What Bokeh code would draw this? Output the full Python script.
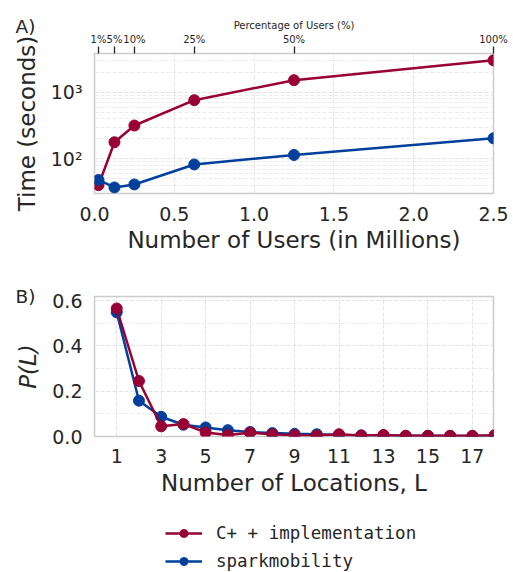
from bokeh.plotting import figure
from bokeh.layouts import column
from bokeh.models import (LinearAxis, FixedTicker, PrintfTickFormatter, Range1d,
                          Legend, LegendItem, Label)
from bokeh.embed import file_html
from bokeh.resources import INLINE

RED = "#990033"
BLUE = "#00409c"
TEXT = "#262626"
GRID = "#e2e2e2"
MINOR = "#ebebeb"
FONT = "DejaVu Sans"

# ---- Panel A data ----
users_m = [0.025, 0.125, 0.25, 0.625, 1.25, 2.5]
pct_labels = ["1%", "5%", "10%", "25%", "50%", "100%"]
cpp_time = [40, 177, 316, 760, 1520, 3020]
spark_time = [48, 37, 41, 82, 114, 203]
x_ticks_a = [0.0, 0.5, 1.0, 1.5, 2.0, 2.5]
y_ticks_a = [100, 1000]
y_minor_a = [30, 40, 50, 60, 70, 80, 90, 200, 300, 400, 500, 600, 700, 800, 900, 2000, 3000]

# ---- Panel B data ----
locations = list(range(1, 19))
cpp_pl = [0.565, 0.245, 0.045, 0.055, 0.018, 0.007, 0.017, 0.010, 0.006, 0.004,
          0.010, 0.004, 0.007, 0.003, 0.003, 0.003, 0.003, 0.006]
spark_pl = [0.548, 0.158, 0.087, 0.052, 0.040, 0.028, 0.020, 0.015, 0.012, 0.010,
            0.007, 0.005, 0.004, 0.003, 0.003, 0.002, 0.002, 0.002]
x_ticks_b = [1, 3, 5, 7, 9, 11, 13, 15, 17]
y_ticks_b = [0.0, 0.2, 0.4, 0.6]
y_minor_b = [0.1, 0.3, 0.5]

cpp_label = "C+ + implementation"
spark_label = "sparkmobility"


def style_axes(p):
    for ax in (p.xaxis + p.yaxis):
        ax.axis_line_color = None
        ax.major_tick_line_color = None
        ax.minor_tick_line_color = None
        ax.major_tick_out = 0
        ax.major_tick_in = 0
        ax.minor_tick_out = 0
        ax.minor_tick_in = 0
        ax.major_label_text_font = FONT
        ax.major_label_text_font_size = "19px"
        ax.major_label_text_color = TEXT
        ax.axis_label_text_font = FONT
        ax.axis_label_text_font_size = "23px"
        ax.axis_label_text_color = TEXT
        ax.axis_label_text_font_style = "normal"
    p.outline_line_color = "#cccccc"
    p.outline_line_width = 1.5
    p.background_fill_color = "white"
    p.border_fill_color = "white"
    for g in (p.xgrid + p.ygrid):
        g.grid_line_color = GRID
        g.grid_line_dash = "4 2"
        g.grid_line_width = 1


def panel_tag(p, text, x, y):
    # text in the right side panel; x, y are offsets from that panel's bottom-left
    p.add_layout(Label(x=x, y=y, x_units="screen", y_units="screen", text=text,
                       text_font=FONT, text_font_size="18.5px", text_color=TEXT,
                       text_baseline="middle", text_align="left"), "right")


# ---------------- Panel A ----------------
pA = figure(width=513, height=265, y_axis_type="log",
            x_range=Range1d(0, 2.5), y_range=Range1d(30, 3830),
            output_backend="svg", toolbar_location=None,
            min_border_left=94, min_border_right=20,
            min_border_top=53, min_border_bottom=72)
pA.line(users_m, cpp_time, color=RED, line_width=2.5)
pA.scatter(users_m, cpp_time, size=11, color=RED)
pA.line(users_m, spark_time, color=BLUE, line_width=2.5)
pA.scatter(users_m, spark_time, size=11, color=BLUE)

pA.xaxis.ticker = FixedTicker(ticks=x_ticks_a)
pA.xaxis.formatter = PrintfTickFormatter(format="%.1f")
pA.yaxis.ticker = FixedTicker(ticks=y_ticks_a, minor_ticks=y_minor_a)
pA.yaxis.major_label_overrides = {100: "10²", 1000: "10³"}
pA.xaxis.axis_label = "Number of Users (in Millions)"
pA.yaxis.axis_label = "Time (seconds)"
style_axes(pA)
pA.xaxis.major_label_standoff = 13
pA.xaxis.axis_label_standoff = 3
pA.yaxis.major_label_standoff = 12
pA.yaxis.axis_label_standoff = 8
pA.ygrid.minor_grid_line_color = MINOR
pA.ygrid.minor_grid_line_dash = "4 2"

top = LinearAxis(ticker=FixedTicker(ticks=users_m),
                 major_label_overrides={v: l for v, l in zip(users_m, pct_labels)},
                 axis_label="Percentage of Users (%)")
top.axis_line_color = None
top.major_tick_line_color = TEXT
top.major_tick_line_width = 1.3
top.major_tick_out = 7
top.major_tick_in = 0
top.minor_tick_line_color = None
top.major_label_text_font = FONT
top.major_label_text_font_size = "10px"
top.major_label_text_color = TEXT
top.major_label_standoff = 2
top.axis_label_text_font = FONT
top.axis_label_text_font_size = "10px"
top.axis_label_text_color = TEXT
top.axis_label_text_font_style = "normal"
top.axis_label_standoff = 0
pA.add_layout(top, "above")

panel_tag(pA, "A)", -478, 167)

# ---------------- Panel B ----------------
pB = figure(width=513, height=235,
            x_range=Range1d(0, 17.95), y_range=Range1d(0, 0.618),
            output_backend="svg", toolbar_location=None,
            min_border_left=94, min_border_right=20,
            min_border_top=31, min_border_bottom=64)
pB.line(locations, spark_pl, color=BLUE, line_width=2.5)
pB.scatter(locations, spark_pl, size=11, color=BLUE)
pB.line(locations, cpp_pl, color=RED, line_width=2.5)
pB.scatter(locations, cpp_pl, size=11, color=RED)

pB.xaxis.ticker = FixedTicker(ticks=x_ticks_b)
pB.yaxis.ticker = FixedTicker(ticks=y_ticks_b, minor_ticks=y_minor_b)
pB.yaxis.formatter = PrintfTickFormatter(format="%.1f")
pB.xaxis.axis_label = "Number of Locations, L"
pB.yaxis.axis_label = "P(L)"
style_axes(pB)
pB.yaxis.axis_label_text_font_style = "italic"
pB.xaxis.major_label_standoff = 12
pB.xaxis.axis_label_standoff = 4
pB.yaxis.major_label_standoff = 12
pB.yaxis.axis_label_standoff = 8
pB.ygrid.minor_grid_line_color = MINOR
pB.ygrid.minor_grid_line_dash = "4 2"

panel_tag(pB, "B)", -478, 140)

# ---------------- Legend strip ----------------
pL = figure(width=513, height=72, x_range=Range1d(0, 1), y_range=Range1d(0, 1),
            output_backend="svg", toolbar_location=None,
            min_border_left=94, min_border_right=20, min_border_top=0, min_border_bottom=0)
pL.axis.visible = False
pL.grid.visible = False
pL.outline_line_color = None
pL.background_fill_alpha = 0
lc = pL.line(locations, cpp_pl, color=RED, line_width=2.5, visible=False)
sc = pL.scatter(locations, cpp_pl, size=11, color=RED, visible=False)
lb = pL.line(locations, spark_pl, color=BLUE, line_width=2.5, visible=False)
sb = pL.scatter(locations, spark_pl, size=11, color=BLUE, visible=False)
legend = Legend(items=[LegendItem(label=cpp_label, renderers=[lc, sc]),
                       LegendItem(label=spark_label, renderers=[lb, sb])],
                location=(71, 1), orientation="vertical")
legend.label_text_font = "DejaVu Sans Mono"
legend.label_text_font_size = "17.5px"
legend.label_text_color = TEXT
legend.glyph_width = 37
legend.glyph_height = 20
legend.label_height = 20
legend.label_standoff = 14
legend.spacing = 8
legend.padding = 0
legend.margin = 0
legend.border_line_color = None
legend.background_fill_alpha = 0
legend.inactive_fill_alpha = 0
pL.add_layout(legend, "center")

layout = column(pA, pB, pL, spacing=0)
open("out.html", "w").write(file_html(layout, INLINE))
